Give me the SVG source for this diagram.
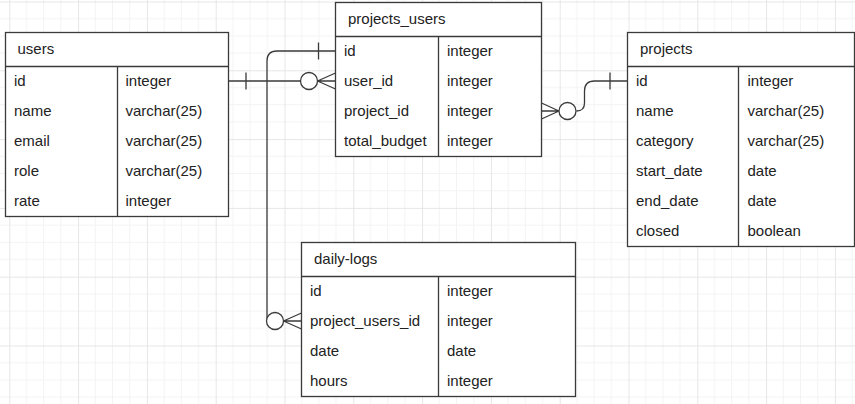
<svg xmlns="http://www.w3.org/2000/svg" width="855" height="404" viewBox="0 0 855 404">
<defs>
<pattern id="grid" patternUnits="userSpaceOnUse" x="9.3" y="1.5" width="68.8" height="68.8">
<path d="M17.2 0V68.8M34.4 0V68.8M51.6 0V68.8M0 17.2H68.8M0 34.4H68.8M0 51.6H68.8" stroke="#f3f3f3" stroke-width="1" fill="none"/>
<path d="M0.5 0V68.8M0 0.5H68.8" stroke="#e6e6e6" stroke-width="1" fill="none"/>
</pattern>
<style>
.box{fill:#fff;stroke:#3a3a3a;stroke-width:1.3}
.ln{stroke:#3a3a3a;stroke-width:1.3;fill:none}
.t{font-family:"Liberation Sans",Arial,sans-serif;font-size:15px;fill:#222}
.c{fill:#fff;stroke:#3a3a3a;stroke-width:1.3}
</style>
</defs>
<rect width="855" height="404" fill="#fff"/>
<rect width="855" height="404" fill="url(#grid)"/>

<g id="connectors">
<!-- users.id to projects_users.user_id -->
<path class="ln" d="M228.5 81H300.5M246 72.5V89.5M317.5 81H335.5M317.5 81L335.5 73M317.5 81L335.5 89"/>
<circle class="c" cx="309" cy="81" r="8.5"/>
<!-- projects_users.id to daily-logs.project_users_id -->
<path class="ln" d="M335.5 51H277Q267 51 267 61V321"/>
<path class="ln" d="M318.5 42.5V59.5M283.5 321H301.5M283.5 321L301.5 313M283.5 321L301.5 329"/>
<circle class="c" cx="275" cy="321" r="8.5"/>
<!-- projects_users.project_id to projects.id -->
<path class="ln" d="M576.5 111Q584.5 111 584.5 103V91Q584.5 81 594.5 81H627.5"/>
<path class="ln" d="M610 72.5V89.5M541.5 103L559 111M541.5 119L559 111M541.5 111H559"/>
<circle class="c" cx="567.5" cy="111" r="8.5"/>
</g>

<g id="users">
<rect class="box" x="5.5" y="32.5" width="223" height="184"/>
<path class="ln" d="M5.5 66.5H228.5M117.5 66.5V216.5"/>
<text class="t" x="17.5" y="54">users</text>
<text class="t" x="14" y="86">id</text><text class="t" x="125.5" y="86">integer</text>
<text class="t" x="14" y="116">name</text><text class="t" x="125.5" y="116">varchar(25)</text>
<text class="t" x="14" y="146">email</text><text class="t" x="125.5" y="146">varchar(25)</text>
<text class="t" x="14" y="176">role</text><text class="t" x="125.5" y="176">varchar(25)</text>
<text class="t" x="14" y="206">rate</text><text class="t" x="125.5" y="206">integer</text>
</g>

<g id="projects_users">
<rect class="box" x="335.5" y="2.5" width="206" height="154"/>
<path class="ln" d="M335.5 36.5H541.5M438.5 36.5V156.5"/>
<text class="t" x="348" y="24">projects_users</text>
<text class="t" x="344" y="56">id</text><text class="t" x="447" y="56">integer</text>
<text class="t" x="344" y="86">user_id</text><text class="t" x="447" y="86">integer</text>
<text class="t" x="344" y="116">project_id</text><text class="t" x="447" y="116">integer</text>
<text class="t" x="344" y="146">total_budget</text><text class="t" x="447" y="146">integer</text>
</g>

<g id="projects">
<rect class="box" x="627.5" y="32.5" width="227" height="214"/>
<path class="ln" d="M627.5 66.5H854.5M738.5 66.5V246.5"/>
<text class="t" x="640" y="54">projects</text>
<text class="t" x="636" y="86">id</text><text class="t" x="747.5" y="86">integer</text>
<text class="t" x="636" y="116">name</text><text class="t" x="747.5" y="116">varchar(25)</text>
<text class="t" x="636" y="146">category</text><text class="t" x="747.5" y="146">varchar(25)</text>
<text class="t" x="636" y="176">start_date</text><text class="t" x="747.5" y="176">date</text>
<text class="t" x="636" y="206">end_date</text><text class="t" x="747.5" y="206">date</text>
<text class="t" x="636" y="236">closed</text><text class="t" x="747.5" y="236">boolean</text>
</g>

<g id="daily-logs">
<rect class="box" x="301.5" y="242.5" width="274" height="154"/>
<path class="ln" d="M301.5 276.5H575.5M438.5 276.5V396.5"/>
<text class="t" x="314" y="264">daily-logs</text>
<text class="t" x="310" y="296">id</text><text class="t" x="447" y="296">integer</text>
<text class="t" x="310" y="326">project_users_id</text><text class="t" x="447" y="326">integer</text>
<text class="t" x="310" y="356">date</text><text class="t" x="447" y="356">date</text>
<text class="t" x="310" y="386">hours</text><text class="t" x="447" y="386">integer</text>
</g>
</svg>
